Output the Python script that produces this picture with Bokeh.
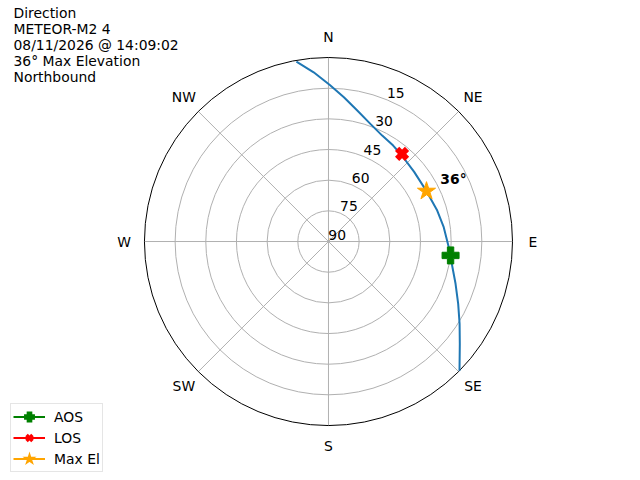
import numpy as np

from bokeh.plotting import figure
from bokeh.models import Label, Legend, LegendItem
from bokeh.core.properties import value
from bokeh.embed import file_html
from bokeh.resources import INLINE

# pass info
title_lines = ["Direction", "METEOR-M2 4", "08/11/2026 @ 14:09:02",
               "36° Max Elevation", "Northbound"]

# track (azimuth deg, elevation deg)
track_az = [349.9, 355.0, 0.5, 6.1, 12.4, 19.6, 26.9, 34.0, 40.0, 50.9, 62.8,
            74.1, 82.9, 92.7, 96.5, 101.0, 108.4, 115.7, 122.1, 127.9, 134.6]
track_el = [0.6, 6.9, 13.4, 19.0, 24.4, 28.9, 31.9, 33.4, 34.6, 36.0, 36.1,
            34.7, 33.2, 31.1, 29.9, 28.4, 24.5, 19.6, 14.3, 8.6, 0.0]

aos_az, aos_el = [96.5], [29.9]
los_az, los_el = [40.0], [34.0]
max_az, max_el = [62.8], [36.1]
max_text = ["36°"]

ring_el = [75, 60, 45, 30, 15]
rlabel_el = [90, 75, 60, 45, 30, 15]
rlabel_text = ["90", "75", "60", "45", "30", "15"]
compass_text = ["N", "NE", "E", "SE", "S", "SW", "W", "NW"]
compass_az = [0, 45, 90, 135, 180, 225, 270, 315]

FONT = "DejaVu Sans"
FS = "13.9px"


def to_xy(az, el):
    r = 90 - np.asarray(el, dtype=float)
    a = np.radians(np.asarray(az, dtype=float))
    return r * np.sin(a), r * np.cos(a)


p = figure(width=640, height=480, x_range=(-160.4, 152.6), y_range=(-116.9, 117.9),
           x_axis_location=None, y_axis_location=None, min_border=0,
           toolbar_location=None, output_backend="svg")
p.grid.grid_line_color = None
p.outline_line_color = None
p.background_fill_color = "white"
p.border_fill_color = "white"

# grid rings and spokes
ring_r = [90 - e for e in ring_el]
p.circle(x=[0] * len(ring_r), y=[0] * len(ring_r), radius=ring_r,
         fill_color=None, line_color="#b0b0b0", line_width=1)
sx, sy = to_xy(compass_az, [0] * len(compass_az))
p.segment(x0=[0] * len(sx), y0=[0] * len(sy), x1=sx, y1=sy,
          line_color="#b0b0b0", line_width=1)
p.circle(x=[0], y=[0], radius=[90], fill_color=None, line_color="black", line_width=1)

# labels
lx, ly = to_xy(compass_az, [-10] * len(compass_az))
p.text(lx, ly, text=compass_text, text_font=value(FONT), text_font_size=FS,
       text_align="center", text_baseline="middle", text_color="black")
rx, ry = to_xy([22.5] * len(rlabel_el), rlabel_el)
p.text(rx, ry, text=rlabel_text, text_font=value(FONT), text_font_size=FS,
       text_align="center", text_baseline="middle", text_color="black",
       x_offset=8.7, y_offset=-7)

# track
tx, ty = to_xy(track_az, track_el)
p.line(tx, ty, line_color="#1f77b4", line_width=2)

ax_, ay_ = to_xy(aos_az, aos_el)
lx_, ly_ = to_xy(los_az, los_el)
mx_, my_ = to_xy(max_az, max_el)


# legend glyphs: a line plus a tiny marker (hidden under the real one in the plot);
# the thick outline keeps the small legend marker readable
def legend_glyphs(x, y, color, marker, lw):
    ln = p.line(x, y, line_color=color, line_width=2)
    if marker == "x":
        mk = p.scatter(x, y, marker=marker, size=1, line_color=color, line_width=lw)
    else:
        mk = p.scatter(x, y, marker=marker, size=1, fill_color=color, line_color=color,
                       line_width=lw, line_join="miter")
    return [ln, mk]


aos_r = legend_glyphs(ax_, ay_, "green", "plus", 2.5)
los_r = legend_glyphs(lx_, ly_, "red", "x", 3.5)
max_r = legend_glyphs(mx_, my_, "orange", "star", 2)

p.scatter(ax_, ay_, marker="plus", size=17, fill_color="green", line_color="green")
p.scatter(lx_, ly_, marker="x", size=14, line_color="red", line_width=6)
p.scatter(mx_, my_, marker="star", size=19, fill_color="orange", line_color="orange")
p.text(mx_, my_, text=max_text, text_font=value(FONT), text_font_size=FS,
       text_font_style="bold", text_align="center", text_baseline="middle",
       x_offset=27, y_offset=-12)

# title block, top left
for i, t in enumerate(title_lines):
    p.add_layout(Label(x=13, y=467.7 - 16.1 * i, x_units="screen", y_units="screen",
                       text=t, text_font=FONT, text_font_size=FS,
                       text_baseline="middle", text_color="black"))

legend = Legend(items=[LegendItem(label="AOS", renderers=aos_r),
                       LegendItem(label="LOS", renderers=los_r),
                       LegendItem(label="Max El", renderers=max_r)],
                location=(10, 8), margin=0, padding=2, spacing=0,
                glyph_width=32, glyph_height=21, label_standoff=9, label_height=16,
                label_text_font=FONT, label_text_font_size=FS, label_text_color="black",
                border_line_color="#cccccc", background_fill_alpha=0.8)
p.add_layout(legend)

open("out.html", "w").write(file_html(p, INLINE))
